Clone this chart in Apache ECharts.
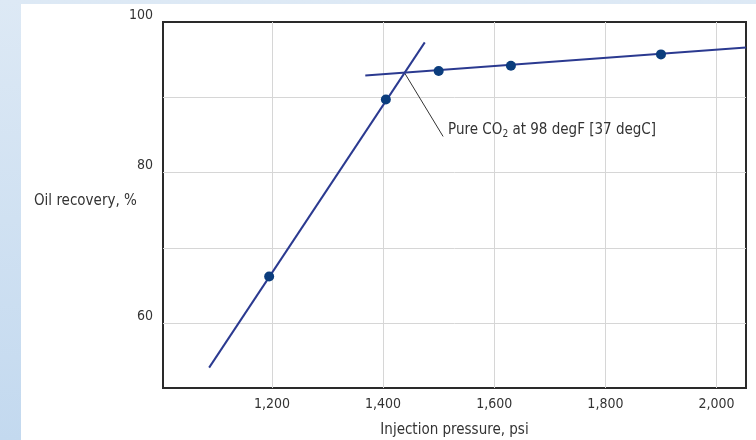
<!DOCTYPE html>
<html>
<head>
<meta charset="utf-8">
<script src="https://cdn.jsdelivr.net/npm/echarts@6/dist/echarts.min.js"></script>
<style>
  html, body { margin: 0; padding: 0; }
  body {
    width: 756px; height: 440px; position: relative; overflow: hidden;
    background: linear-gradient(to bottom, #dde9f5, #c3d9ef);
  }
  .panel { position: absolute; left: 21px; top: 4px; right: 0; bottom: 0; background: #fff; }
  #chart { position: absolute; left: 0; top: 0; width: 756px; height: 440px; }
</style>
</head>
<body>
<div class="panel"></div>
<div id="chart"></div>
<script>
// measured points
var pressure = [1195, 1405, 1500, 1630, 1900];
var recovery = [66.2, 89.7, 93.5, 94.2, 95.7];

// fitted lines (end points)
var steepX = [1087, 1475];
var steepY = [54.1, 97.3];
var flatX = [1368, 2053];
var flatY = [92.9, 96.6];

// leader line for the note
var leaderX = [1439, 1508];
var leaderY = [93.2, 84.8];

var xMin = 1004, xMax = 2053;
var yMin = 51.4, yMax = 100;

var font = '"Liberation Sans Narrow", "DejaVu Sans Condensed", "Roboto", sans-serif';

function pairs(xs, ys) {
  return xs.map(function (x, i) { return [x, ys[i]]; });
}

var myChart = echarts.init(document.getElementById('chart'));

var option = {
  backgroundColor: 'transparent',
  animation: false,
  textStyle: { fontFamily: font },
  grid: {
    left: 163, top: 22, right: 10, bottom: 52,
    outerBoundsMode: 'none',
    containLabel: false,
    show: true, borderColor: '#2a2a2a', borderWidth: 2
  },
  xAxis: {
    type: 'value',
    min: xMin, max: xMax,
    name: 'Injection pressure, psi',
    nameLocation: 'middle',
    nameGap: 35,
    nameTextStyle: { color: '#333', fontSize: 15, fontFamily: font },
    axisLine: { show: false },
    axisTick: { show: false },
    splitLine: { showMinLine: false, showMaxLine: false, lineStyle: { color: '#d6d6d6', width: 1 } },
    axisLabel: {
      color: '#333', fontSize: 14, margin: 9, fontFamily: font,
      formatter: function (v) {
        return v % 200 === 0 ? v.toLocaleString('en-US') : '';
      }
    }
  },
  yAxis: {
    type: 'value',
    min: yMin, max: yMax,
    axisLine: { show: false },
    axisTick: { show: false },
    splitLine: { showMinLine: false, showMaxLine: false, lineStyle: { color: '#d6d6d6', width: 1 } },
    axisLabel: {
      color: '#333', fontSize: 14, margin: 10, fontFamily: font,
      verticalAlign: 'bottom',
      formatter: function (v) { return v % 20 === 0 ? String(v) : ''; }
    }
  },
  graphic: [{
    type: 'text', left: 34, top: 194,
    style: { text: 'Oil recovery, %', fill: '#333', fontSize: 15, fontFamily: font }
  }],
  series: [
    {
      type: 'line', data: pairs(steepX, steepY), symbol: 'none',
      lineStyle: { color: '#2b3a90', width: 2 }, clip: true, z: 2
    },
    {
      type: 'line', data: pairs(flatX, flatY), symbol: 'none',
      lineStyle: { color: '#2b3a90', width: 2 }, clip: true, z: 2
    },
    {
      type: 'line', data: pairs(leaderX, leaderY), symbol: 'none',
      lineStyle: { color: '#333', width: 1 }, z: 1,
      endLabel: {
        show: true, distance: 5, offset: [0, -6],
        formatter: '{a|Pure CO}{s|2}{a| at 98 degF [37 degC]}',
        rich: {
          a: { fontSize: 15, color: '#333', fontFamily: font },
          s: { fontSize: 10, color: '#333', fontFamily: font, padding: [8, 0, 0, 0] }
        }
      }
    },
    {
      type: 'scatter', data: pairs(pressure, recovery),
      symbolSize: 10, itemStyle: { color: '#0b3d7d', opacity: 1 }, z: 3
    }
  ]
};

myChart.setOption(option);
</script>
</body>
</html>
